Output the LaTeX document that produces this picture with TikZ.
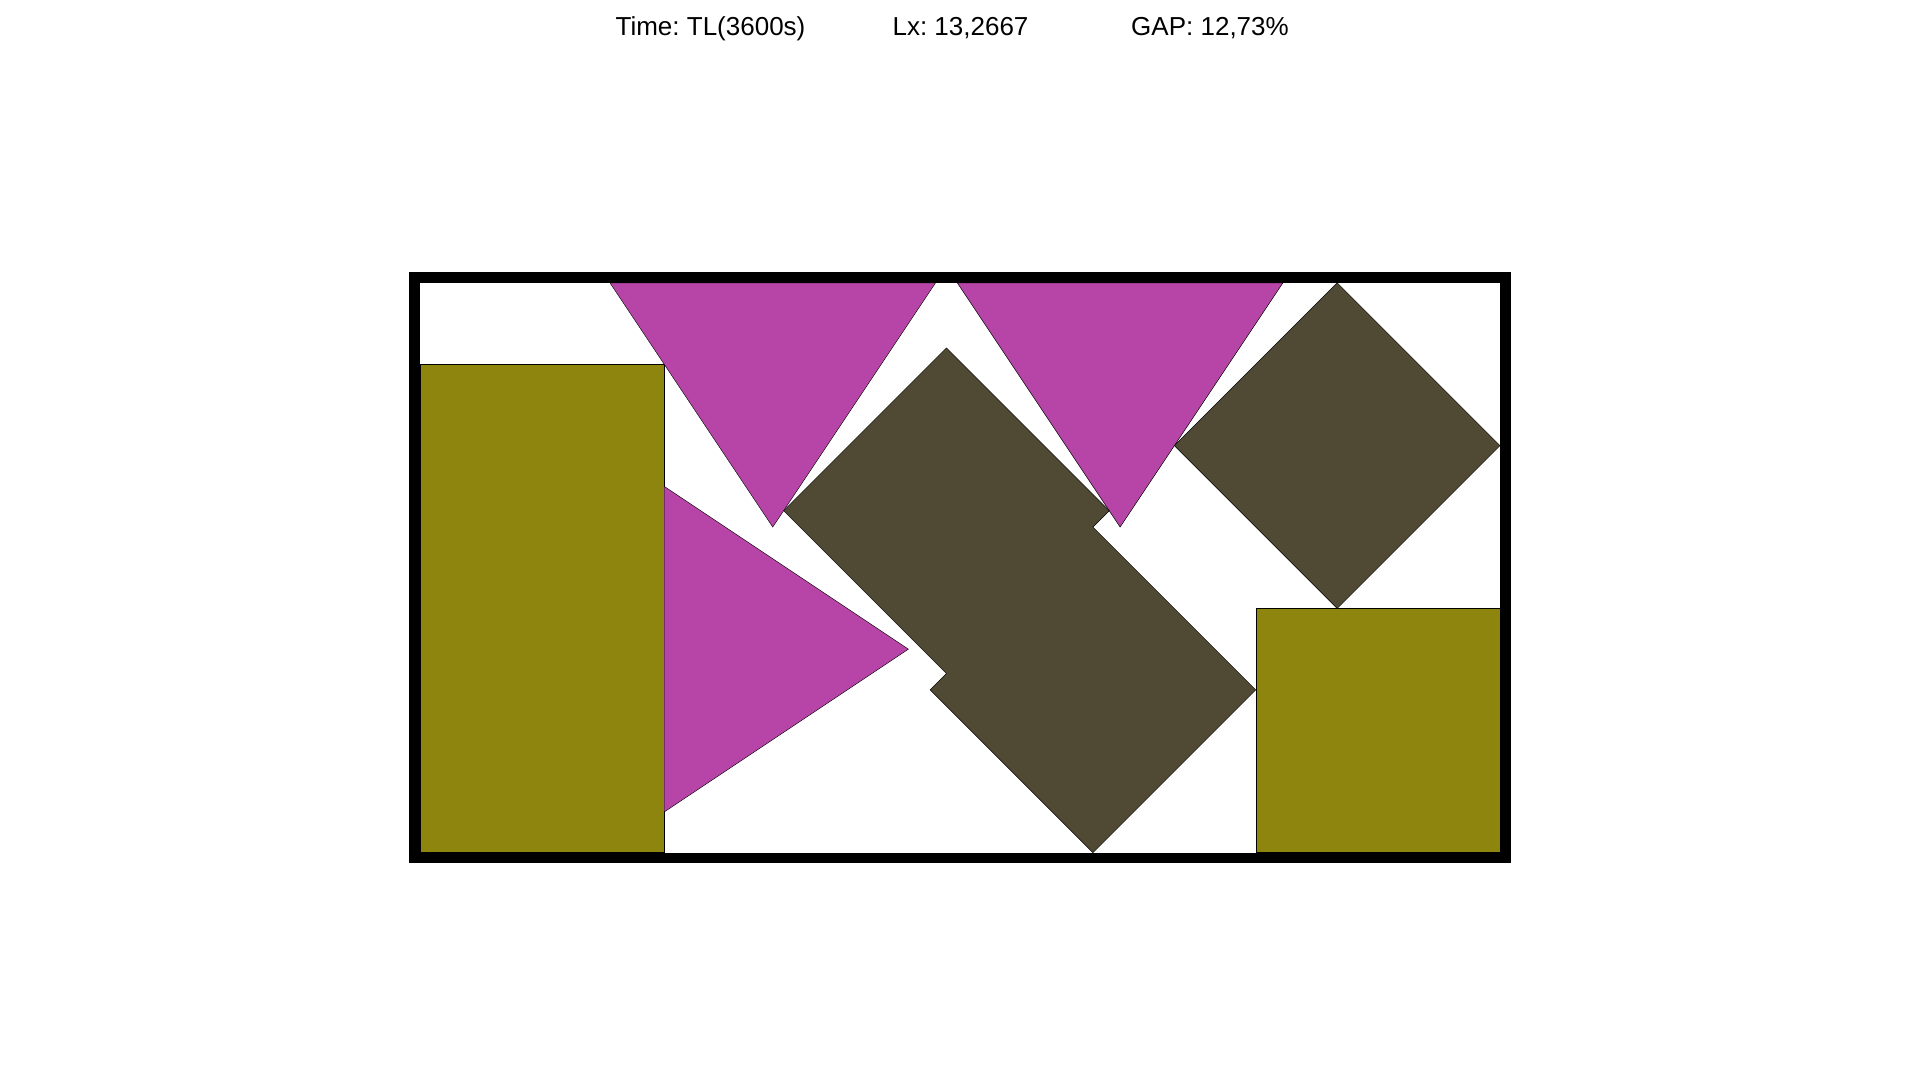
\documentclass[tikz,border=0pt]{standalone}
\usepackage{fontspec}
\setmainfont{Liberation Sans}
\frenchspacing
\definecolor{olivebox}{RGB}{142,133,15}
\definecolor{magentatri}{RGB}{183,69,168}
\definecolor{darksq}{RGB}{80,74,52}
\tikzset{
  lbl/.style={anchor=base, inner sep=0pt, font=\fontsize{14.8}{18}\selectfont},
  piece/.style={draw=black, line width=0.25pt, line join=miter},
  rectpiece/.style={piece, fill=olivebox},
  tripiece/.style={piece, fill=magentatri},
  sqpiece/.style={piece, fill=darksq},
  frame/.style={draw=black, line width=0.214cm, line join=miter}
}
\begin{document}
\begin{tikzpicture}
\useasboundingbox (0,0) rectangle (38.4,21.6);
\fill[white] (0,0) rectangle (38.4,21.6);
\node[lbl] (time) at (14.21,20.88) {Time: TL(3600s)};
\node[lbl] (lx) at (19.21,20.88) {Lx: 13,2667};
\node[lbl] (gap) at (24.20,20.88) {GAP: 12,73\%};
\begin{scope}[shift={(8.4,4.546)}, x=1.62814cm, y=1.62814cm]
  % olive rectangles
  \path[rectpiece] (0,0) rectangle (3,6);
  \path[rectpiece] (10.2667,0) rectangle (13.2667,3);
  % magenta triangles
  \path[tripiece] (2.3333,7) -- (6.3333,7) -- (4.3333,4) -- cycle;
  \path[tripiece] (6.6,7) -- (10.6,7) -- (8.6,4) -- cycle;
  \path[tripiece] (3,0.5) -- (3,4.5) -- (6,2.5) -- cycle;
  % dark squares
  \path[sqpiece] (11.2667,7) -- (13.2667,5) -- (11.2667,3) -- (9.2667,5) -- cycle;
  \path[sqpiece] (6.4667,6.2) -- (8.4667,4.2) -- (8.2667,4) -- (10.2667,2)
     -- (8.2667,0) -- (6.2667,2) -- (6.4667,2.2) -- (4.4667,4.2) -- cycle;
  % container frame
  \path[frame] (-0.0657,-0.0657) rectangle (13.3324,7.0657);
\end{scope}
\end{tikzpicture}
\end{document}
